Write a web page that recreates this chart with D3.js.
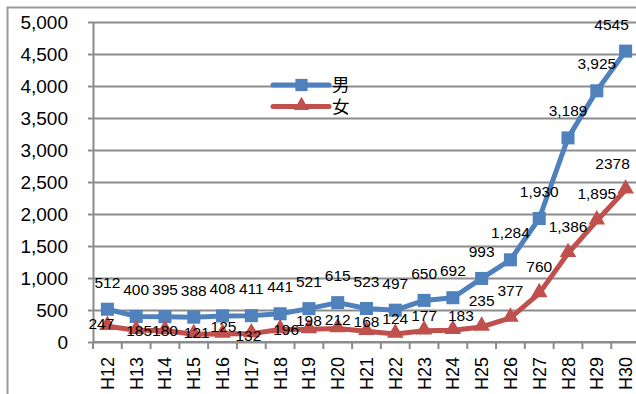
<!DOCTYPE html>
<html>
<head>
<meta charset="utf-8">
<script src="https://cdn.jsdelivr.net/npm/d3@7"></script>
<style>
  body { margin: 0; background: #fff; }
  svg { display: block; }
</style>
</head>
<body>
<div id="chart"></div>
<script>
// data
const years = ["H12","H13","H14","H15","H16","H17","H18","H19","H20","H21",
  "H22","H23","H24","H25","H26","H27","H28","H29","H30"];
const male = [512,400,395,388,408,411,441,521,615,523,497,650,692,993,1284,1930,3189,3925,4545];
const female = [247,185,180,121,125,132,196,198,212,168,124,177,183,235,377,760,1386,1895,2378];
const yTicks = [0,500,1000,1500,2000,2500,3000,3500,4000,4500,5000];
const seriesNames = ["男", "女"];
// last labels were typed without thousands separator
const plainLabel = [18];

// label nudges (px)
const maleDx = [0,0,0,0,0,0,0,0,0,0,0,0,0,0,0,0,0,0,-14];
const femaleDx = [-6,3,0,3,1,-3,6,0,0,0,0,0,8,0,0,0,0,0,-13];
const femaleDy = [-3,0,0,-2,-7,2,0,-9,-9,-10,-15,-15,-15,-26,-27,-27,-27,-27,-26];

const W = 636, H = 394;
const plot = {left: 93, right: 640, top: 22, bottom: 342};
const blue = "#4F81BD", red = "#C0504D", grid = "#8c8c8c";
const numFont = "'Liberation Sans', Arial, sans-serif";

const svg = d3.select("#chart").append("svg")
  .attr("width", W).attr("height", H);

// outer border (cropped chart frame)
svg.append("path")
  .attr("d", `M7.5,${H} V7.5 H${W}`)
  .attr("fill", "none").attr("stroke", "#9a9a9a").attr("stroke-width", 2);

const x = d3.scaleBand().domain(years).range([plot.left, plot.right]);
const y = d3.scaleLinear().domain([0, 5000]).range([plot.bottom, plot.top]);
const cx = (d, i) => x(years[i]) + x.bandwidth() / 2;

// gridlines
svg.append("g")
  .attr("transform", `translate(${plot.left},0)`)
  .call(d3.axisLeft(y).tickValues(yTicks).tickSize(-(W - plot.left + 10)).tickFormat(""))
  .call(g => g.select(".domain").remove())
  .call(g => g.selectAll("line").attr("stroke", grid).attr("stroke-width", 2));

// y axis
svg.append("g")
  .attr("transform", `translate(${plot.left},0)`)
  .call(d3.axisLeft(y).tickValues(yTicks).tickSize(5).tickPadding(20)
    .tickFormat(d3.format(",")).tickSizeOuter(0))
  .call(g => g.select(".domain").attr("stroke", grid).attr("stroke-width", 2))
  .call(g => g.selectAll("line").attr("stroke", grid).attr("stroke-width", 2))
  .call(g => g.selectAll("text").attr("fill", "#000")
    .style("font", `19px ${numFont}`));

// x axis with boundary ticks
const xAxis = svg.append("g").attr("transform", `translate(0,${plot.bottom})`);
xAxis.append("line").attr("x1", plot.left).attr("x2", W)
  .attr("stroke", grid).attr("stroke-width", 2);
xAxis.selectAll(".bt").data(years).enter().append("line")
  .attr("x1", d => x(d)).attr("x2", d => x(d))
  .attr("y1", 0).attr("y2", 7)
  .attr("stroke", grid).attr("stroke-width", 2);
xAxis.selectAll(".lbl").data(years).enter().append("text")
  .attr("transform", d => `translate(${x(d) + x.bandwidth() / 2 + 6.5},15) rotate(-90)`)
  .attr("text-anchor", "end")
  .style("font", `18px ${numFont}`)
  .text(d => d);

// lines
const line = d3.line().x(cx).y(d => y(d));
svg.append("path").datum(male).attr("d", line)
  .attr("fill", "none").attr("stroke", blue).attr("stroke-width", 5)
  .attr("stroke-linejoin", "round");
svg.append("path").datum(female).attr("d", line)
  .attr("fill", "none").attr("stroke", red).attr("stroke-width", 5)
  .attr("stroke-linejoin", "round");

// markers
const sq = d3.symbol().type(d3.symbolSquare).size(170);
const tri = d3.symbol().type(d3.symbolTriangle).size(120);
svg.selectAll(".m").data(male).enter().append("path")
  .attr("d", sq).attr("fill", blue)
  .attr("transform", (d, i) => `translate(${cx(d, i)},${y(d)})`);
svg.selectAll(".f").data(female).enter().append("path")
  .attr("d", tri).attr("fill", red)
  .attr("transform", (d, i) => `translate(${cx(d, i)},${y(d) - 1})`);

// data labels
const fmt = (d, i) => plainLabel.includes(i) ? String(d) : d3.format(",")(d);
svg.selectAll(".ml").data(male).enter().append("text")
  .attr("x", (d, i) => cx(d, i) + maleDx[i])
  .attr("y", d => y(d) - 27)
  .attr("dy", "0.35em")
  .attr("text-anchor", "middle")
  .style("font", `15.5px ${numFont}`)
  .text(fmt);
svg.selectAll(".fl").data(female).enter().append("text")
  .attr("x", (d, i) => cx(d, i) + femaleDx[i])
  .attr("y", (d, i) => y(d) + femaleDy[i])
  .attr("dy", "0.35em")
  .attr("text-anchor", "middle")
  .style("font", `15.5px ${numFont}`)
  .text(fmt);

// legend
const legend = svg.append("g").attr("transform", "translate(273,85)");
[blue, red].forEach((c, i) => {
  const row = legend.append("g").attr("transform", `translate(0,${i * 21.5})`);
  row.append("line").attr("x1", 0).attr("x2", 56)
    .attr("stroke", c).attr("stroke-width", 5).attr("stroke-linecap", "round");
  row.append("path")
    .attr("d", i === 0 ? d3.symbol().type(d3.symbolSquare).size(150)() : d3.symbol().type(d3.symbolTriangle).size(100)())
    .attr("fill", c).attr("transform", `translate(28.5,${i === 0 ? 0 : -1})`);
  row.append("text").attr("x", 59).attr("y", 0).attr("dy", "0.36em")
    .style("font", "17.5px 'Noto Sans CJK JP', sans-serif")
    .text(seriesNames[i]);
});
</script>
</body>
</html>
